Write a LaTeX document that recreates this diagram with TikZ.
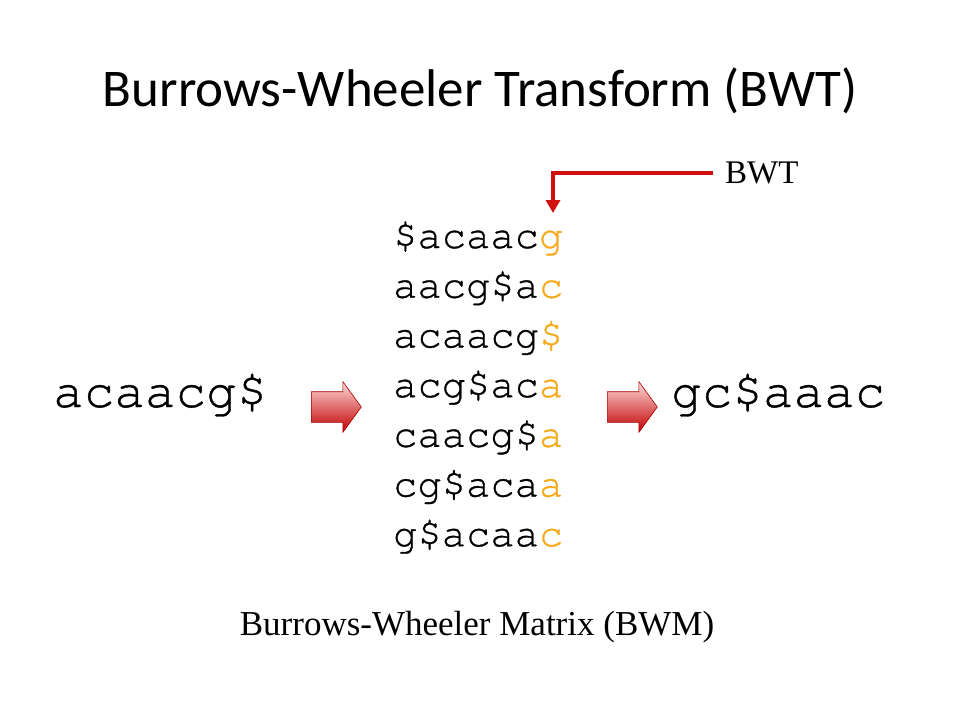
\documentclass[tikz,border=0pt]{standalone}
\usepackage{fontspec,xcolor}
\usetikzlibrary{shapes.arrows,arrows.meta}
\newfontfamily\titlefont{Carlito}
\newfontfamily\codefont[FakeBold=0.8]{texgyrecursor-regular.otf}
\newfontfamily\labelfont{Liberation Serif}
\definecolor{bwtorange}{RGB}{245,170,30}
\definecolor{bwtred}{RGB}{210,16,16}
\newcommand{\lastChar}[1]{\textcolor{bwtorange}{#1}}

\tikzset{
  txt/.style={inner sep=0pt, anchor=base west},
  bigcode/.style={txt, font=\codefont\fontsize{51}{51}\selectfont},
  rowcode/.style={txt, font=\codefont\fontsize{40.5}{40.5}\selectfont},
  blockarrow/.style={single arrow, draw=red!65!black, line width=0.6pt,
    top color=red!15, bottom color=red!75!black, shading angle=0,
    text height=15pt, text depth=15pt, text width=0pt,
    minimum height=50pt, single arrow head extend=10pt,
    single arrow tip angle=108, inner sep=0pt, anchor=west}
}

\begin{document}
\begin{tikzpicture}[x=1pt,y=-1pt]
\useasboundingbox (0,0) rectangle (960,720);
\node[txt, anchor=base, font=\titlefont\fontsize{53}{53}\selectfont] (title) at (480,106) {Burrows-Wheeler Transform (BWT)};
\node[bigcode] (input) at (53,407) {acaacg\$};
\node[blockarrow] (arrowA) at (311,407) {};
\foreach \pre/\last [count=\i] in {\$acaac/g, aacg\$a/c, acaacg/\$, acg\$ac/a, caacg\$/a, cg\$aca/a, g\$acaa/c}
  \node[rowcode] (row\i) at (393,{248+49.7*(\i-1)}) {\pre\lastChar{\last}};
\node[blockarrow] (arrowB) at (607,407) {};
\node[bigcode] (output) at (671,407) {gc\$aaac};
\node[txt, anchor=base west, font=\labelfont\fontsize{33}{33}\selectfont] (bwt) at (725,183) {BWT};
\coordinate (bwtstart) at (713,173);
\coordinate (bwtcol) at (553,213);
\draw[bwtred, line width=4pt, -{Triangle[width=14pt,length=13pt]}] (bwtstart) -| (bwtcol);
\node[txt, anchor=base, font=\labelfont\fontsize{35}{35}\selectfont] (bwm) at (477,635) {Burrows-Wheeler Matrix (BWM)};
\end{tikzpicture}
\end{document}
